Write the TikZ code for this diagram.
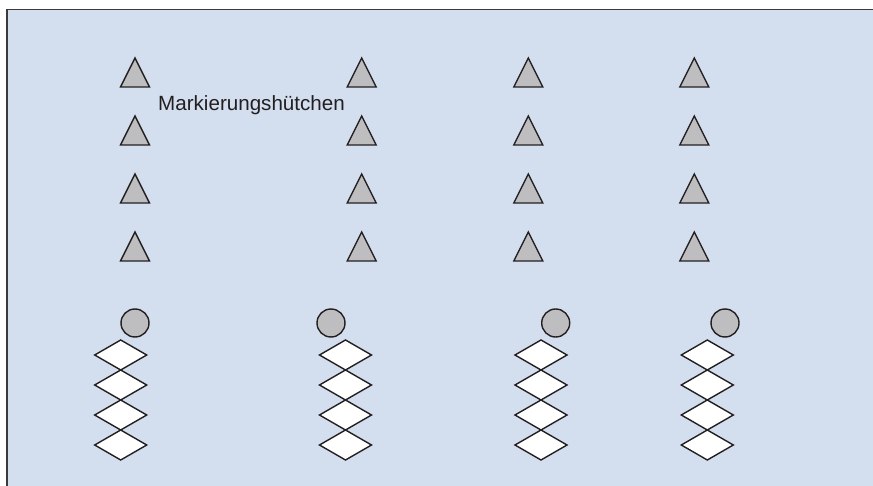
\documentclass[tikz,border=0pt]{standalone}
\usepackage{fontspec}
\setmainfont{Liberation Sans}
\definecolor{bgblue}{HTML}{D3DEEF}
\definecolor{conegray}{HTML}{BEBEC0}
\definecolor{ink}{HTML}{231F20}
\definecolor{framegray}{HTML}{3A3A3C}
\tikzset{
  cone/.style={fill=conegray, draw=ink, line width=1.4pt, line join=miter},
  ball/.style={fill=conegray, draw=ink, line width=1.4pt},
  rhomb/.style={fill=white, draw=ink, line width=1.4pt, line join=miter},
  label/.style={text=ink, font=\fontsize{20.6}{24}\selectfont, inner sep=0pt, anchor=west}
}
\begin{document}
\begin{tikzpicture}[x=1pt,y=-1pt]
\useasboundingbox (0,0) rectangle (873,486);
\fill[bgblue] (7,10) rectangle (873,486);
\draw[framegray, line width=1.6pt] (6.8,486) -- (6.8,9.6) -- (873,9.6);
% cones
\foreach \cx in {135,361.7,528.3,694.3}{
  \foreach \ty in {58,116,174,232}{
    \draw[cone] (\cx,\ty) -- (\cx+14.5,\ty+29) -- (\cx-14.5,\ty+29) -- cycle;
  }
}
% balls
\foreach \bx/\n in {135/1,331/2,555.7/3,725/4}{
  \node[ball, circle, minimum size=28pt, inner sep=0pt] (ball\n) at (\bx,323) {};
}
% diamonds
\foreach \dx in {120.7,345.5,541,707.3}{
  \foreach \dy in {340,370,400,430}{
    \draw[rhomb] (\dx,\dy) -- (\dx+26,\dy+15) -- (\dx,\dy+30) -- (\dx-26,\dy+15) -- cycle;
  }
}
\node[label] (lbl) at (158,105) {Markierungshütchen};
\end{tikzpicture}
\end{document}
